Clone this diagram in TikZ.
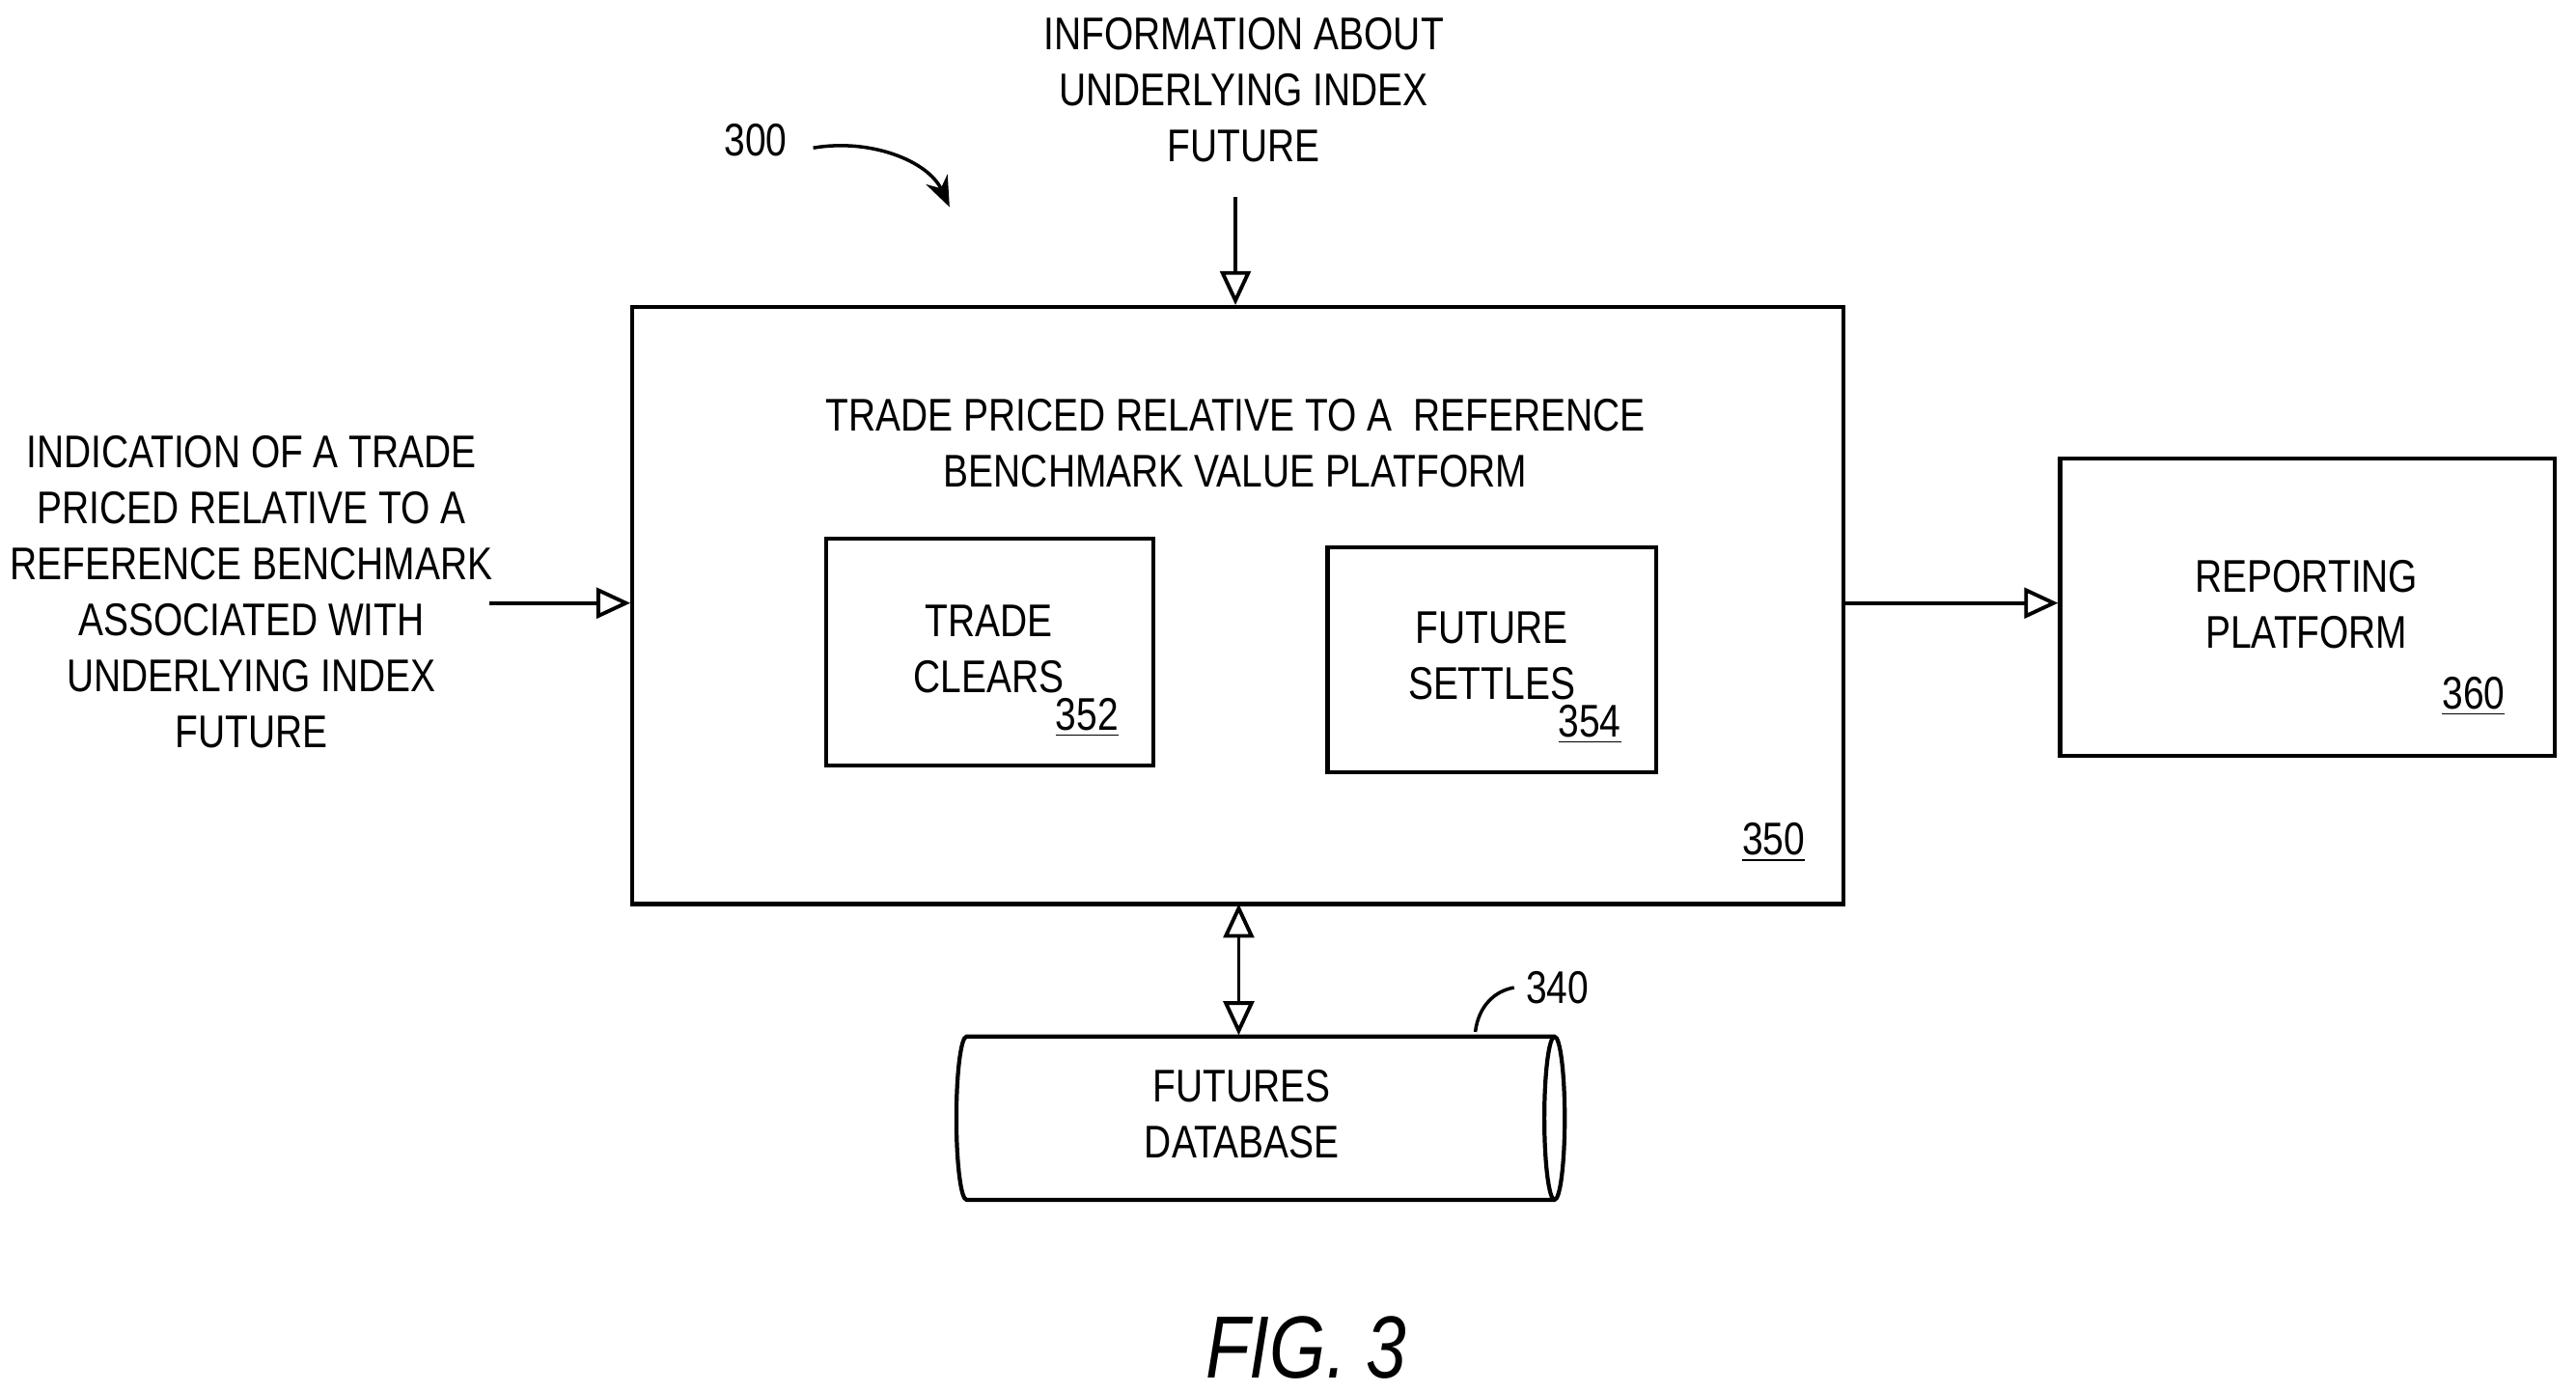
\documentclass[tikz,border=0pt]{standalone}
\usepackage{fontspec}
\setmainfont{Liberation Sans}[FakeStretch=0.82]
\usetikzlibrary{positioning,arrows.meta,shapes.geometric}

\tikzset{
  block/.style={draw, line width=1.2pt, inner sep=0pt},
  lbl/.style={align=center, font=\fontsize{13.5}{16.5}\selectfont},
  num/.style={font=\fontsize{13.5}{16}\selectfont},
  flow/.style={-{Triangle[open,length=10pt,width=9pt]}, line width=1.1pt},
}
\newcommand{\refnum}[1]{\underline{#1}}

\begin{document}
\begin{tikzpicture}[x=0.01702cm, y=-0.01702cm]
    \useasboundingbox (0,0) rectangle (1568,847);

    % main platform
    \node[block, minimum width=12.54cm, minimum height=6.18cm] (Platform) at (753.5,368.5) {};
    \node[lbl] (PlatformText) at (752,270) {TRADE PRICED RELATIVE TO A\ \ REFERENCE\\BENCHMARK VALUE PLATFORM};
    \node[num, anchor=south east] (PlatformNum) at (1106,532) {\refnum{350}};

    \node[block, minimum width=3.39cm, minimum height=2.35cm] (Clears) at (602.5,397) {};
    \node[lbl] at (602,395) {TRADE\\CLEARS};
    \node[num, anchor=south east] at (688,456) {\refnum{352}};

    \node[block, minimum width=3.40cm, minimum height=2.33cm] (Settles) at (908,401.5) {};
    \node[lbl] at (908,399) {FUTURE\\SETTLES};
    \node[num, anchor=south east] at (994,460) {\refnum{354}};

    % reporting
    \node[block, minimum width=5.12cm, minimum height=3.08cm] (Reporting) at (1404.5,369.5) {};
    \node[lbl] at (1404,368) {REPORTING\\PLATFORM};
    \node[num, anchor=south east] at (1532,443) {\refnum{360}};

    % database
    \node[draw, line width=1.2pt, cylinder, shape aspect=0.9, minimum width=1.69cm,
          minimum height=6.30cm] (Database) at (762,680.5) {};
    \node[lbl] at (756,678) {FUTURES\\DATABASE};
    \node[num] (DbNum) at (948,601) {340};
    \draw[line width=1pt] (898,628) .. controls (900,612) and (910,603) .. (DbNum.west);

    % inputs
    \node[lbl] (TradeInput) at (153,360) {INDICATION OF A TRADE\\PRICED RELATIVE TO A\\REFERENCE BENCHMARK\\ASSOCIATED WITH\\UNDERLYING INDEX\\FUTURE};
    \node[lbl] (InfoInput) at (757,55) {INFORMATION ABOUT\\UNDERLYING INDEX\\FUTURE};
    \coordinate (TradeStart) at (298,367);
    \coordinate (InfoStart) at (752,120);

    \draw[flow] (TradeStart) -- (Platform.west |- TradeStart);
    \draw[flow] (InfoStart) -- (InfoStart |- Platform.north);
    \draw[flow] (Platform.east |- TradeStart) -- (Reporting.west |- TradeStart);
    \draw[flow, {Triangle[open,length=10pt,width=9pt]}-{Triangle[open,length=10pt,width=9pt]}]
      (754,550) -- (754,630);

    % figure reference
    \node[num] (FigNum) at (460,85) {300};
    \coordinate (FigTip) at (578,126);
    \draw[-{Stealth[length=9pt,width=7pt]}, line width=1pt] (495,90) .. controls (530,84) and (565,98) .. (FigTip);

    \node[font=\fontsize{26}{30}\selectfont\itshape] (Caption) at (795,820) {FIG. 3};
\end{tikzpicture}
\end{document}
